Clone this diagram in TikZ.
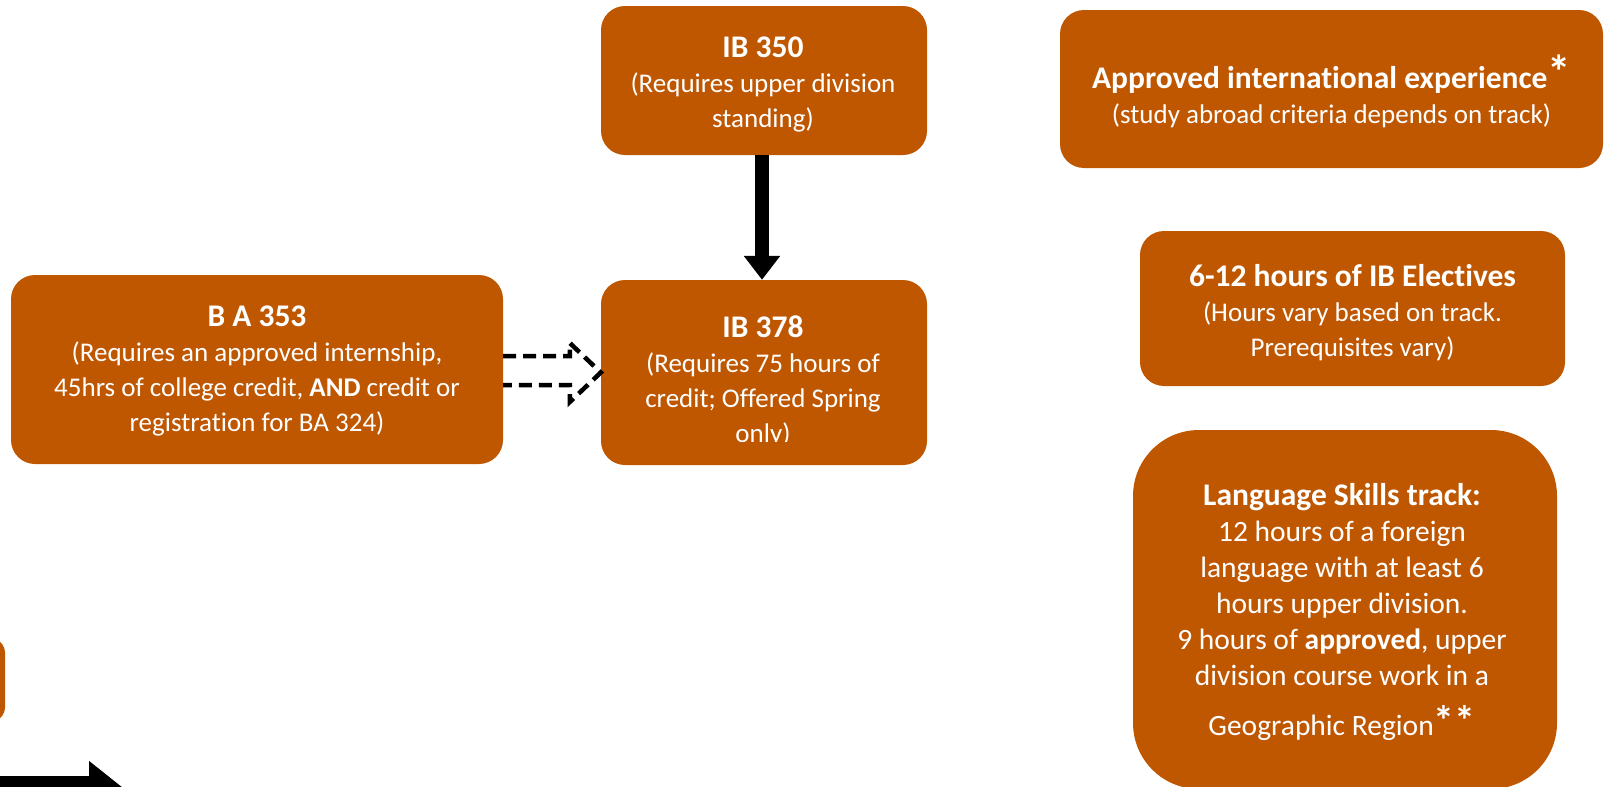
\documentclass[tikz,border=0pt]{standalone}
\usepackage{fontspec}
\setmainfont{Carlito}[Ligatures={NoCommon,NoRequired,NoContextual}]
\usetikzlibrary{arrows.meta,calc}
\definecolor{burnt}{HTML}{BF5700}
\newcommand\ttlfont[1]{{\fontsize{31.5}{35}\selectfont\bfseries #1}}
\begin{document}
\begin{tikzpicture}[x=1pt,y=-1pt,
  box/.style={fill=burnt, draw=none, rounded corners=24pt, inner sep=0pt},
  txt/.style={text=white, align=center, font=\fontsize{27}{35}\selectfont, inner sep=0pt},
  solidarrow/.style={line width=14pt, -{Triangle[width=35pt,length=24pt]}},
  bigarrow/.style={line width=22pt, -{Triangle[width=50pt,length=33pt]}},
  dasharrow/.style={line width=4.5pt, dash pattern=on 13pt off 7pt, line join=miter}
]
\useasboundingbox (0,0) rectangle (1604,787);

% boxes
\node[box, minimum width=326pt, minimum height=149pt] (ib350) at (764,80.5) {};
\node[box, minimum width=326pt, minimum height=185pt] (ib378) at (764,372.5) {};
\node[box, minimum width=492pt, minimum height=189pt] (ba353) at (257,369.5) {};
\node[box, minimum width=543pt, minimum height=158pt] (appr) at (1331.5,89) {};
\node[box, minimum width=425pt, minimum height=155pt] (elec) at (1352.5,308.5) {};
\node[box, rounded corners=66pt, minimum width=424pt, minimum height=359pt] (lang) at (1345,609.5) {};
\node[box, rounded corners=15pt, minimum width=100pt, minimum height=84pt] (lbox) at (-45,680) {};

% texts
\node[txt] (ib350t) at ($(ib350.center)+(-1,4)$) {\ttlfont{IB 350}\\(Requires upper division\\standing)};
\begin{scope}
\clip (600,280) rectangle (928,441);
\node[txt] (ib378t) at ($(ib378.center)+(-1,8.5)$) {\ttlfont{IB 378}\\(Requires 75 hours of\\credit; Offered Spring\\only)};
\end{scope}
\node[txt] (ba353t) at ($(ba353.center)+(0,1.5)$) {\ttlfont{B A 353}\\(Requires an approved internship,\\45hrs of college credit, \textbf{AND} credit or\\registration for BA 324)};
\node[txt] (apprt) at ($(appr.center)+(0,2.5)$) {\ttlfont{Approved international experience}{\fontsize{47}{47}\selectfont\bfseries *}\\(study abroad criteria depends on track)};
\node[txt] (elect) at ($(elec.center)+(0,4)$) {\ttlfont{6-12 hours of IB Electives}\\(Hours vary based on track.\\Prerequisites vary)};
\node[txt, font=\fontsize{29.5}{36}\selectfont] (langt) at ($(lang.center)+(-3,2.5)$) {\ttlfont{Language Skills track:}\\12 hours of a foreign\\language with at least 6\\hours upper division.\\9 hours of \textbf{approved}, upper\\division course work in a\\[14pt]Geographic Region{\fontsize{42}{42}\selectfont\bfseries **}};

% connectors
\draw[solidarrow] ($(ib350.south)+(-2,0)$) -- ($(ib378.north)+(-2,0)$);

\coordinate (d1) at ($(ba353.east)+(0,-13.5)$);
\coordinate (d2) at ($(ib378.west)+(-31,-16.5)$);
\coordinate (d3) at ($(ib378.west)+(-31,-29.5)$);
\coordinate (d4) at (ib378.west);
\coordinate (d5) at ($(ib378.west)+(-31,29.5)$);
\coordinate (d6) at ($(ib378.west)+(-31,12.5)$);
\coordinate (d7) at ($(ba353.east)+(0,15.5)$);
\draw[dasharrow] (d1) -- (d2) -- (d3) -- (d4) -- (d5) -- (d6) -- (d7);

\coordinate (bs) at (-60,787);
\coordinate (be) at (122,787);
\draw[bigarrow] (bs) -- (be);
\end{tikzpicture}
\end{document}
